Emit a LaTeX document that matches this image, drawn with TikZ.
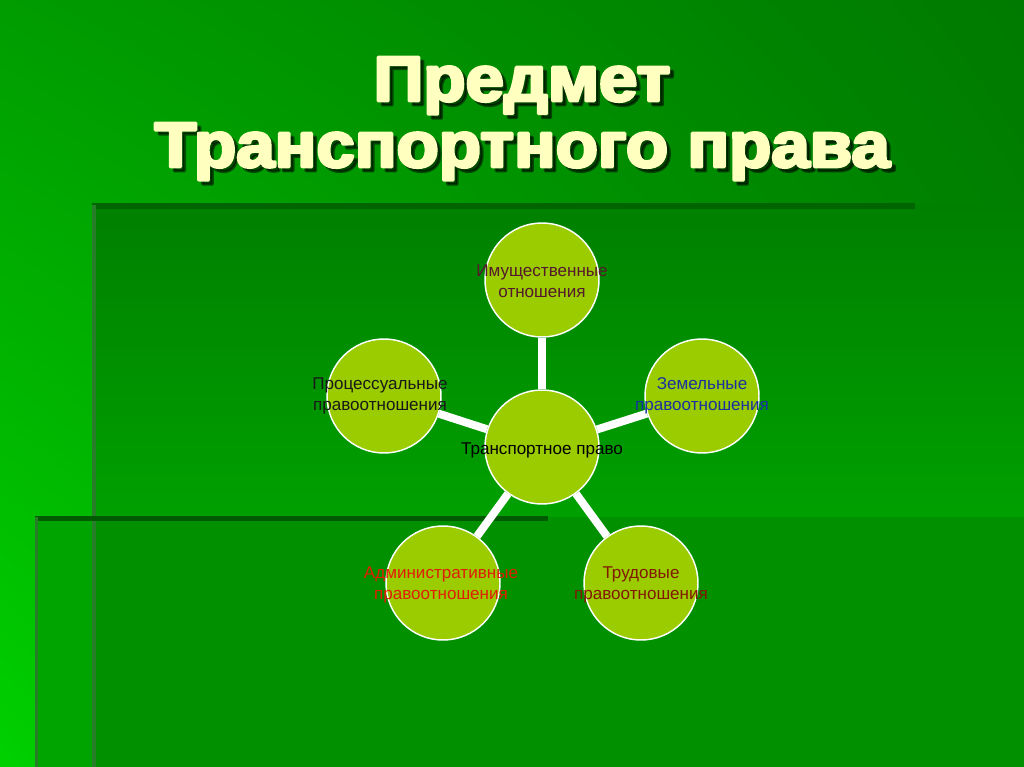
\documentclass[tikz,border=0pt]{standalone}
\usepackage{fontspec}
\setmainfont{Liberation Sans}
\newfontfamily\titlefont[FakeBold=4.5]{Liberation Sans Bold}
\usetikzlibrary{shadings}

\definecolor{bgll}{RGB}{0,208,0}
\definecolor{bgul}{RGB}{0,156,0}
\definecolor{bgur}{RGB}{0,122,0}
\definecolor{bglr}{RGB}{0,140,0}
\definecolor{paneltop}{RGB}{0,128,0}
\definecolor{panelbot}{RGB}{0,160,0}
\definecolor{edgedark}{RGB}{0,100,0}
\definecolor{edgesoft}{RGB}{40,125,40}
\definecolor{leaf}{RGB}{154,204,0}
\definecolor{titlecol}{RGB}{255,255,192}
\definecolor{maroon}{RGB}{85,25,45}
\definecolor{navy}{RGB}{25,50,160}
\definecolor{redtext}{RGB}{225,30,0}
\definecolor{browntext}{RGB}{130,25,0}
\definecolor{greytext}{RGB}{25,25,25}

\begin{document}
\begin{tikzpicture}[
        x = 0.75pt, y = -0.75pt,
        line join=round,
        bubble/.style = {circle, draw=white, line width=1.1pt, fill=leaf, minimum size=85.5pt, inner sep=0pt},
        caption/.style = {align=center, inner sep=0pt, font=\fontsize{12.8}{15.75}\selectfont},
        link/.style = {white, line width=6pt},
        headline/.style = {anchor=base, inner sep=0pt, xscale=1.08, text=titlecol, font=\titlefont\fontsize{48}{48}\selectfont}
    ]

    % background and panels
    \useasboundingbox (0,0) rectangle (1024,767);
    \shade[upper left=bgul, upper right=bgur, lower left=bgll, lower right=bglr] (0,0) rectangle (1024,767);
    \shade[top color=paneltop, bottom color=panelbot] (92,205) rectangle (1024,517);
    \fill[fill={rgb,255:red,0;green,164;blue,0}] (35,517) rectangle (1024,767);
    \fill[fill={rgb,255:red,0;green,144;blue,0}] (92,517) rectangle (1024,767);

    \fill[edgedark] (92,203) rectangle (915,209);
    \fill[edgesoft] (92,205) rectangle (96,767);
    \fill[edgedark!90!black] (35,516) rectangle (548,521);
    \fill[edgesoft] (35,517) rectangle (38,767);

    % title
    \node[headline, text=black, opacity=0.5] (t1s) at (526,105) {Предмет};
    \node[headline] (t1) at (522,101) {Предмет};
    \node[headline, text=black, opacity=0.5] (t2s) at (526,171) {Транспортного права};
    \node[headline] (t2) at (522,167) {Транспортного права};

    % pentagon of circles
    \coordinate (c) at (542,447);
    \node[bubble] (law) at (c) {};
    \node[bubble] (prop) at (542,280) {};
    \node[bubble] (land) at (702,396) {};
    \node[bubble] (labour) at (641,583) {};
    \node[bubble] (admin) at (443,583) {};
    \node[bubble] (proc) at (384,396) {};

    \foreach \n in {prop, land, labour, admin, proc} {
        \draw[link] (law) -- (\n);
    }

    \node[caption] (law-t) at (542,450) {Транспортное право};
    \node[caption, text=maroon] (prop-t) at (542,281) {Имущественные\\отношения};
    \node[caption, text=navy] (land-t) at (702,396) {Земельные\\правоотношения};
    \node[caption, text=browntext] (labour-t) at (641,585) {Трудовые\\правоотношения};
    \node[caption, text=redtext] (admin-t) at (441,585) {Административные\\правоотношения};
    \node[caption, text=greytext] (proc-t) at (380,396) {Процессуальные\\правоотношения};

\end{tikzpicture}
\end{document}
